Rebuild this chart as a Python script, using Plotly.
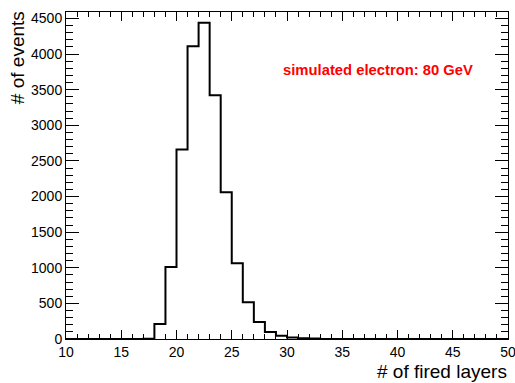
import plotly.graph_objects as go

# Histogram of number of fired layers (bin width 1, from 10 to 50)
bin_edges_low = list(range(10, 50))
counts = [0, 0, 0, 0, 0, 0, 0, 5, 210, 1010,
          2660, 4110, 4440, 3420, 2060, 1065, 515, 240, 100, 45,
          22, 12, 8, 0, 0, 0, 0, 0, 0, 0,
          0, 0, 0, 0, 0, 0, 0, 0, 0, 0]
x_range = [10, 50]
y_range = [0, 4590]
x_ticks = [10, 15, 20, 25, 30, 35, 40, 45, 50]
y_ticks = [0, 500, 1000, 1500, 2000, 2500, 3000, 3500, 4000, 4500]

x_title = "# of fired layers"
y_title = "# of events"
label_text = "simulated electron: 80 GeV"

# step outline: append the final upper edge
xs = bin_edges_low + [bin_edges_low[-1] + 1]
ys = counts + [counts[-1]]

fig = go.Figure()
fig.add_trace(go.Scatter(
    x=xs, y=ys, mode="lines", line_shape="hv",
    line=dict(color="black", width=2), hoverinfo="skip", showlegend=False,
))

font_family = "Liberation Sans, Arial, Helvetica, sans-serif"

fig.update_layout(
    width=515, height=383,
    margin=dict(l=66, r=7, t=12, b=44, autoexpand=False),
    paper_bgcolor="white", plot_bgcolor="white",
    font=dict(family=font_family, color="black", size=14),
    showlegend=False,
    xaxis=dict(
        range=x_range, tickvals=x_ticks, ticktext=[str(v) for v in x_ticks],
        showgrid=False, zeroline=False, ticklabeloverflow="allow", automargin=False,
        showline=True, linecolor="black", linewidth=1, mirror="ticks",
        ticks="inside", ticklen=9, tickcolor="black", tickwidth=1,
        minor=dict(ticks="inside", ticklen=5, dtick=1, tickcolor="black", tickwidth=1, showgrid=False),
        tickfont=dict(size=14),
    ),
    yaxis=dict(
        range=y_range, tickvals=y_ticks, ticktext=[str(v) for v in y_ticks],
        showgrid=False, zeroline=False, ticklabeloverflow="allow", automargin=False,
        showline=True, linecolor="black", linewidth=1, mirror="ticks",
        ticks="inside", ticklen=13, tickcolor="black", tickwidth=1,
        minor=dict(ticks="inside", ticklen=7, dtick=100, tickcolor="black", tickwidth=1, showgrid=False),
        tickfont=dict(size=14),
    ),
    annotations=[
        dict(text=x_title, xref="paper", yref="paper", x=1.002, y=-0.098,
             xanchor="right", yanchor="middle", showarrow=False,
             font=dict(size=19, family=font_family, color="black")),
        dict(text=y_title, xref="paper", yref="paper", x=-0.108, y=1.008,
             xanchor="center", yanchor="top", textangle=-90, showarrow=False,
             font=dict(size=19, family=font_family, color="black")),
        dict(text="<b>" + label_text + "</b>", xref="paper", yref="paper",
             x=0.706, y=0.824, xanchor="center", yanchor="middle", showarrow=False,
             font=dict(size=14.8, family=font_family, color="red")),
    ],
)

fig.write_html(
    "out.html",
    config={"displayModeBar": False},
    post_script="document.body.style.margin='0';document.body.style.overflow='hidden';",
)
